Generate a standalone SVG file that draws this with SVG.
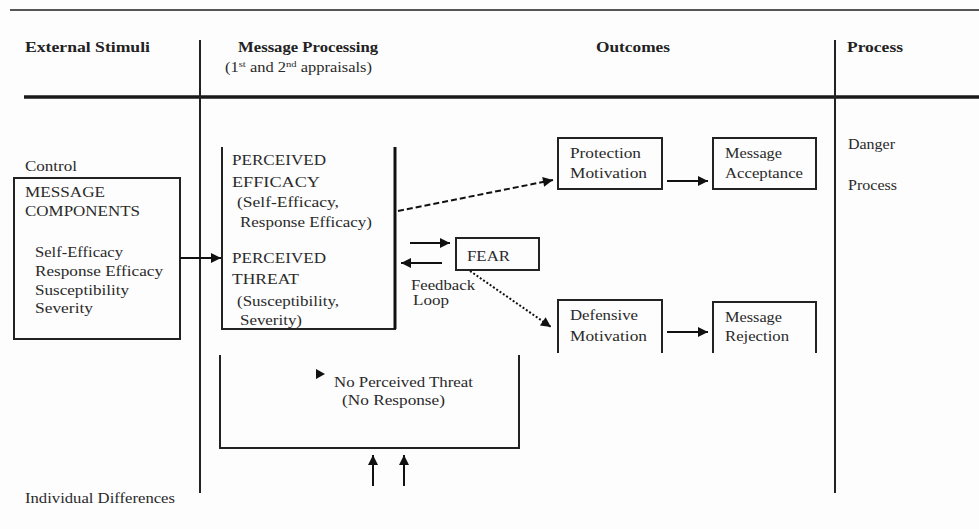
<svg xmlns="http://www.w3.org/2000/svg" width="979" height="529" viewBox="0 0 979 529">
<defs>
<marker id="ah" viewBox="0 0 10 10" refX="10" refY="5" markerWidth="12" markerHeight="10" markerUnits="userSpaceOnUse" orient="auto"><path d="M0,0 L10,5 L0,10 z" fill="#111"/></marker>
</defs>
<style>
text{font-family:"Liberation Serif","Times New Roman",serif;font-size:14px;fill:#2a2a2a}
.h{font-weight:bold;font-size:15px;fill:#222}
.box{fill:none;stroke:#222;stroke-width:2}
.ln{fill:none;stroke:#222;stroke-width:2}
.c{fill:none;stroke:#111;stroke-width:2}
</style>
<rect width="979" height="529" fill="#fdfdfd"/>

<g id="frame">
<line x1="10" y1="10" x2="979" y2="10" stroke="#555" stroke-width="2"/>
<line x1="24" y1="97" x2="979" y2="97" stroke="#1a1a1a" stroke-width="3.5"/>
<line x1="200" y1="40" x2="200" y2="493" class="ln"/>
<line x1="835" y1="40" x2="835" y2="493" class="ln"/>
<text class="h" x="25" y="52" textLength="125" lengthAdjust="spacingAndGlyphs">External Stimuli</text>
<text class="h" x="238" y="52" textLength="140" lengthAdjust="spacingAndGlyphs">Message Processing</text>
<text x="225" y="72" textLength="147" lengthAdjust="spacingAndGlyphs">(1<tspan font-size="9" dy="-5">st</tspan><tspan dy="5"> and 2</tspan><tspan font-size="9" dy="-5">nd</tspan><tspan dy="5"> appraisals)</tspan></text>
<text class="h" x="596" y="52" textLength="74" lengthAdjust="spacingAndGlyphs">Outcomes</text>
<text class="h" x="847" y="52" textLength="56" lengthAdjust="spacingAndGlyphs">Process</text>
<text x="25" y="171" textLength="52" lengthAdjust="spacingAndGlyphs">Control</text>
<text x="25" y="503" textLength="150" lengthAdjust="spacingAndGlyphs" fill="#555">Individual Differences</text>
<text x="848" y="149" textLength="47" lengthAdjust="spacingAndGlyphs">Danger</text>
<text x="848" y="190" textLength="49" lengthAdjust="spacingAndGlyphs">Process</text>
</g>

<g id="message-components">
<rect x="14" y="178" width="166" height="161" class="box"/>
<text x="25" y="197" textLength="80" lengthAdjust="spacingAndGlyphs">MESSAGE</text>
<text x="25" y="216" textLength="115" lengthAdjust="spacingAndGlyphs">COMPONENTS</text>
<text x="35" y="257" textLength="88" lengthAdjust="spacingAndGlyphs">Self-Efficacy</text>
<text x="35" y="276" textLength="128" lengthAdjust="spacingAndGlyphs">Response Efficacy</text>
<text x="35" y="295" textLength="94" lengthAdjust="spacingAndGlyphs">Susceptibility</text>
<text x="35" y="313" textLength="58" lengthAdjust="spacingAndGlyphs">Severity</text>
</g>

<g id="perceived">
<path d="M222,147 V329 H395 V147" class="box"/>
<line x1="395" y1="147" x2="395" y2="329" stroke="#111" stroke-width="3"/>
<text x="232" y="165" textLength="94" lengthAdjust="spacingAndGlyphs">PERCEIVED</text>
<text x="232" y="187" textLength="88" lengthAdjust="spacingAndGlyphs">EFFICACY</text>
<text x="237" y="207" textLength="102" lengthAdjust="spacingAndGlyphs">(Self-Efficacy,</text>
<text x="240" y="227" textLength="132" lengthAdjust="spacingAndGlyphs">Response Efficacy)</text>
<text x="232" y="263" textLength="94" lengthAdjust="spacingAndGlyphs">PERCEIVED</text>
<text x="232" y="284" textLength="67" lengthAdjust="spacingAndGlyphs">THREAT</text>
<text x="237" y="306" textLength="102" lengthAdjust="spacingAndGlyphs">(Susceptibility,</text>
<text x="240" y="325" textLength="62" lengthAdjust="spacingAndGlyphs">Severity)</text>
</g>

<g id="fear">
<rect x="456" y="238" width="83" height="32" class="box"/>
<text x="467" y="261" textLength="43" lengthAdjust="spacingAndGlyphs">FEAR</text>
</g>

<g id="feedback-label">
<text x="411" y="290" textLength="64" lengthAdjust="spacingAndGlyphs">Feedback</text>
<text x="413" y="305" textLength="36" lengthAdjust="spacingAndGlyphs">Loop</text>
</g>

<g id="protection-motivation">
<rect x="558" y="138" width="104" height="51" class="box"/>
<text x="570" y="158" textLength="71" lengthAdjust="spacingAndGlyphs">Protection</text>
<text x="570" y="178" textLength="77" lengthAdjust="spacingAndGlyphs">Motivation</text>
</g>

<g id="message-acceptance">
<rect x="713" y="138" width="103" height="51" class="box"/>
<text x="725" y="158" textLength="57" lengthAdjust="spacingAndGlyphs">Message</text>
<text x="725" y="178" textLength="78" lengthAdjust="spacingAndGlyphs">Acceptance</text>
</g>

<g id="defensive-motivation">
<path d="M558,353 V300 H662 V353" class="box"/>
<text x="570" y="320" textLength="68" lengthAdjust="spacingAndGlyphs">Defensive</text>
<text x="570" y="341" textLength="77" lengthAdjust="spacingAndGlyphs">Motivation</text>
</g>

<g id="message-rejection">
<path d="M713,353 V302 H816 V353" class="box"/>
<text x="725" y="322" textLength="57" lengthAdjust="spacingAndGlyphs">Message</text>
<text x="725" y="341" textLength="64" lengthAdjust="spacingAndGlyphs">Rejection</text>
</g>

<g id="no-perceived-threat">
<path d="M220,355 V448 H519 V355" class="box"/>
<polygon points="316,369 325,374 316,379" fill="#111"/>
<text x="334" y="387" textLength="139" lengthAdjust="spacingAndGlyphs">No Perceived Threat</text>
<text x="342" y="405" textLength="103" lengthAdjust="spacingAndGlyphs">(No Response)</text>
</g>

<g id="connectors">
<line x1="180" y1="258" x2="221" y2="258" class="c" marker-end="url(#ah)"/>
<line x1="398" y1="211" x2="553" y2="180" class="c" stroke-dasharray="6,3" marker-end="url(#ah)"/>
<line x1="410" y1="243" x2="450" y2="243" class="c" marker-end="url(#ah)"/>
<line x1="442" y1="263" x2="401" y2="263" class="c" marker-end="url(#ah)"/>
<line x1="470" y1="271" x2="551" y2="327" class="c" stroke-width="1.5" stroke-dasharray="2,2" marker-end="url(#ah)"/>
<line x1="667" y1="181" x2="708" y2="181" class="c" marker-end="url(#ah)"/>
<line x1="667" y1="332" x2="708" y2="332" class="c" marker-end="url(#ah)"/>
<line x1="373" y1="486" x2="373" y2="455" class="c" marker-end="url(#ah)"/>
<line x1="404" y1="486" x2="404" y2="455" class="c" marker-end="url(#ah)"/>
</g>
</svg>
